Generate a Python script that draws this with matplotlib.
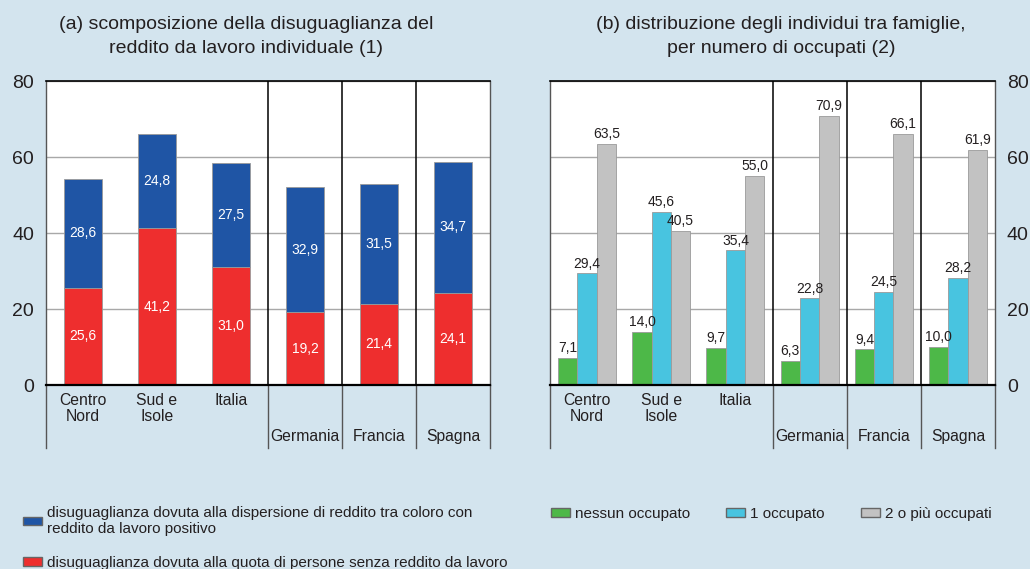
import matplotlib.pyplot as plt
from matplotlib.patches import Patch
from matplotlib.transforms import blended_transform_factory

plt.rcParams['font.family'] = ['Liberation Sans', 'DejaVu Sans']

# dati
areas = ['Centro\nNord', 'Sud e\nIsole', 'Italia', 'Germania', 'Francia', 'Spagna']
senza_reddito = [25.6, 41.2, 31.0, 19.2, 21.4, 24.1]
dispersione = [28.6, 24.8, 27.5, 32.9, 31.5, 34.7]
nessun_occ = [7.1, 14.0, 9.7, 6.3, 9.4, 10.0]
uno_occ = [29.4, 45.6, 35.4, 22.8, 24.5, 28.2]
due_occ = [63.5, 40.5, 55.0, 70.9, 66.1, 61.9]
yticks = [0, 20, 40, 60, 80]

BG = '#d3e4ee'
BLUE = '#1f55a5'
RED = '#ee2e2e'
GREEN = '#4db848'
CYAN = '#48c4e0'
GREY = '#c2c2c2'
TXT = '#231f20'

W, H = 1030, 569
fig = plt.figure(figsize=(W / 100, H / 100), dpi=100, facecolor=BG)


def px_axes(x0, y0, x1, y1):
    return fig.add_axes([x0 / W, 1 - y1 / H, (x1 - x0) / W, (y1 - y0) / H])


def fmt(v):
    return f'{v:.1f}'.replace('.', ',')


def style_axes(ax, right=False):
    ax.set_facecolor('white')
    ax.set_xlim(-0.5, len(areas) - 0.5)
    ax.set_ylim(0, 80)
    ax.set_yticks(yticks)
    ax.yaxis.grid(True, color='#a8a8a8', lw=1)
    ax.set_axisbelow(True)
    ax.set_xticks([])
    ax.tick_params(axis='y', length=0, labelsize=14, colors=TXT, pad=8.5)
    if right:
        ax.yaxis.tick_right()
    for s in ['left', 'right']:
        ax.spines[s].set_color('#555555')
        ax.spines[s].set_linewidth(1)
    ax.spines['top'].set_linewidth(1.2)
    ax.spines['bottom'].set_linewidth(1.6)
    # separatori tra gruppi e linee sotto l'asse
    tr = blended_transform_factory(ax.transData, ax.transAxes)
    for x in [2.5, 3.5, 4.5]:
        ax.plot([x, x], [0, 1], color='black', lw=1.1, transform=tr, zorder=3)
    for x in [-0.5, 2.5, 3.5, 4.5, 5.5]:
        ax.plot([x, x], [0, -0.208], color='#555555', lw=1, transform=tr,
                clip_on=False)
    for i, name in enumerate(areas):
        if i < 3:
            ax.text(i, -0.025, name, transform=tr, ha='center', va='top',
                    fontsize=11.3, color=TXT, linespacing=1.15)
        else:
            ax.text(i, -0.195, name, transform=tr, ha='center', va='bottom',
                    fontsize=11.3, color=TXT)


# (a)
ax1 = px_axes(46, 81, 490, 385)
style_axes(ax1)
x = range(len(areas))
ax1.bar(x, senza_reddito, width=0.52, color=RED, edgecolor='#9a9a9a', lw=0.6, zorder=2)
ax1.bar(x, dispersione, bottom=senza_reddito, width=0.52, color=BLUE,
        edgecolor='#9a9a9a', lw=0.6, zorder=2)
for i in x:
    ax1.text(i, senza_reddito[i] / 2, fmt(senza_reddito[i]), ha='center', va='center',
             color='white', fontsize=10, zorder=4)
    ax1.text(i, senza_reddito[i] + dispersione[i] / 2, fmt(dispersione[i]),
             ha='center', va='center', color='white', fontsize=10, zorder=4)

# (b)
ax2 = px_axes(550, 81, 995, 385)
style_axes(ax2, right=True)
bw = 0.26
for vals, off, col in [(nessun_occ, -bw, GREEN), (uno_occ, 0, CYAN), (due_occ, bw, GREY)]:
    pos = [i + off for i in x]
    ax2.bar(pos, vals, width=bw, color=col, edgecolor='#9a9a9a', lw=0.6, zorder=2)
    for p, v in zip(pos, vals):
        ax2.text(p, v + 0.7, fmt(v), ha='center', va='bottom',
                 fontsize=10, color=TXT, zorder=4)

fig.text(246 / W, 1 - 36.5 / H, "(a) scomposizione della disuguaglianza del\nreddito da lavoro individuale (1)",
         ha='center', va='center', fontsize=14, color=TXT, linespacing=1.6)
fig.text(781 / W, 1 - 36.5 / H, "(b) distribuzione degli individui tra famiglie,\nper numero di occupati (2)",
         ha='center', va='center', fontsize=14, color=TXT, linespacing=1.6)

# legende
leg_kw = dict(frameon=False, fontsize=11, handlelength=1.24, handleheight=0.46,
              handletextpad=0.3, borderaxespad=0, borderpad=0, labelcolor=TXT)
h1 = [Patch(facecolor=BLUE, edgecolor='#666666'), Patch(facecolor=RED, edgecolor='#666666')]
fig.legend(h1, ['disuguaglianza dovuta alla dispersione di reddito tra coloro con\nreddito da lavoro positivo',
                'disuguaglianza dovuta alla quota di persone senza reddito da lavoro'],
           loc='upper left', bbox_to_anchor=(23 / W, 1 - 506 / H), labelspacing=1.3,
           **leg_kw)
h2 = [Patch(facecolor=GREEN, edgecolor='#666666'), Patch(facecolor=CYAN, edgecolor='#666666'),
      Patch(facecolor=GREY, edgecolor='#666666')]
fig.legend(h2, ['nessun occupato', '1 occupato', '2 o più occupati'], ncol=3,
           loc='upper left', bbox_to_anchor=(551 / W, 1 - 507 / H), columnspacing=2.4,
           **leg_kw)

fig.savefig('out.png', dpi=100, facecolor=BG)
